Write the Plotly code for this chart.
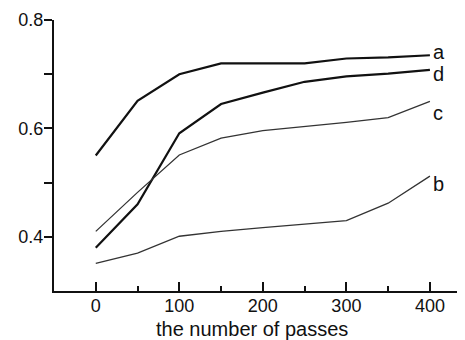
import plotly.graph_objects as go

passes = [0, 50, 100, 150, 200, 250, 300, 350, 400]
series_a = [0.55, 0.651, 0.70, 0.72, 0.72, 0.72, 0.729, 0.731, 0.735]
series_d = [0.38, 0.46, 0.591, 0.645, 0.666, 0.686, 0.696, 0.701, 0.708]
series_c = [0.41, 0.482, 0.551, 0.582, 0.596, 0.603, 0.611, 0.620, 0.650]
series_b = [0.351, 0.37, 0.401, 0.41, 0.417, 0.423, 0.430, 0.462, 0.512]
labels = ["a", "d", "c", "b"]
x_ticks = [0, 100, 200, 300, 400]
y_ticks = [0.4, 0.6, 0.8]

fig = go.Figure()
styles = {
    "a": ("#111111", 2.2, 3),
    "d": ("#111111", 2.2, -4),
    "c": ("#333333", 1.3, -12),
    "b": ("#333333", 1.3, -8),
}
data = {"a": series_a, "d": series_d, "c": series_c, "b": series_b}
for name in labels:
    col, w, ys = styles[name]
    fig.add_trace(go.Scatter(x=passes, y=data[name], mode="lines",
                             line=dict(color=col, width=w), showlegend=False))
    fig.add_annotation(x=passes[-1], y=data[name][-1], xref="x", yref="y",
                       text=name, showarrow=False, xanchor="left",
                       xshift=1, yshift=ys,
                       font=dict(family="Liberation Sans, Arial", size=20, color="#111"))

fig.add_annotation(x=0.482, y=-0.14, xref="paper", yref="paper",
                   text="the number of passes", showarrow=False,
                   xanchor="center", yanchor="middle",
                   font=dict(family="Liberation Sans, Arial", size=20, color="#111"))

fig.update_layout(
    width=457, height=332,
    margin=dict(l=46, r=0, t=12, b=49),
    paper_bgcolor="white", plot_bgcolor="white",
    font=dict(family="Liberation Sans, Arial", size=18, color="#111"),
    xaxis=dict(range=[-50, 442], tickvals=x_ticks, ticks="inside", ticklen=9,
               tickwidth=1.5, tickcolor="#111", automargin=False,
               ticklabelstandoff=-3,
               minor=dict(tickvals=[50, 150, 250, 350], ticks="inside", ticklen=5,
                          tickwidth=1.5, tickcolor="#111"),
               showline=True, linecolor="#111", linewidth=2, showgrid=False,
               zeroline=False),
    yaxis=dict(range=[0.3, 0.8], tickvals=y_ticks, ticktext=["0.4", "0.6", "0.8"],
               ticks="outside", ticklen=8, tickwidth=1.5, tickcolor="#111",
               automargin=False, ticklabelstandoff=-3,
               minor=dict(tickvals=[0.5, 0.7], ticks="outside", ticklen=8,
                          tickwidth=1.5, tickcolor="#111"),
               showline=True, linecolor="#111", linewidth=2, showgrid=False,
               zeroline=False),
)

fig.write_html("out.html")
